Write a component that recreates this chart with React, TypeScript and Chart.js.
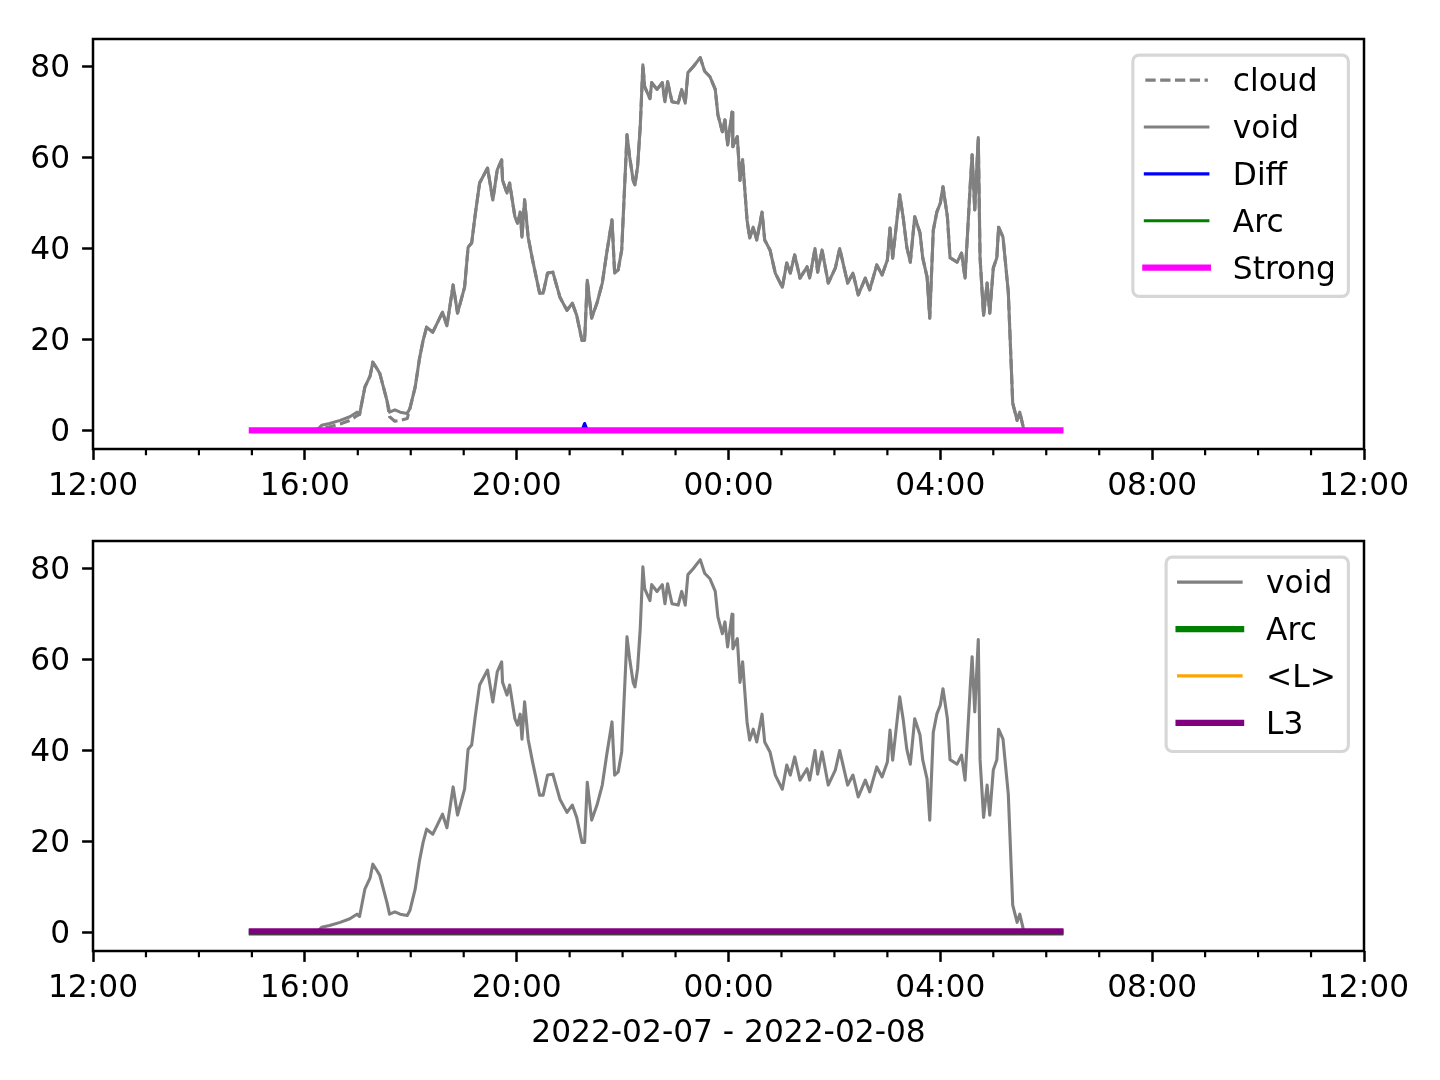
import React, { useEffect, useRef } from "react";
import { Chart, registerables } from "chart.js";

Chart.register(...registerables);

// ---------- data ----------
const TIMES = [
  "15:00","16:00","16:15","16:19","16:28","16:40","16:51","16:59","17:02","17:08",
  "17:14","17:17","17:22","17:25","17:33","17:36","17:42","17:48","17:56","17:59",
  "18:05","18:10","18:14","18:18","18:25","18:30","18:36","18:41","18:48","18:53",
  "19:01","19:05","19:09","19:13","19:18","19:24","19:27","19:33","19:38","19:43",
  "19:44","19:49","19:52","19:58","20:01","20:04","20:06","20:09","20:13","20:18",
  "20:26","20:30","20:35","20:41","20:49","20:57","21:03","21:08","21:14","21:17",
  "21:20","21:25","21:31","21:37","21:42","21:48","21:51","21:55","21:59","22:05",
  "22:08","22:12","22:14","22:17","22:20","22:23","22:25","22:31","22:33","22:39",
  "22:45","22:48","22:51","22:56","23:03","23:07","23:11","23:14","23:20","23:28",
  "23:33","23:39","23:45","23:48","23:53","23:56","23:59","00:04","00:05","00:10",
  "00:13","00:16","00:21","00:24","00:28","00:32","00:38","00:41","00:47","00:53",
  "01:01","01:06","01:10","01:15","01:21","01:29","01:32","01:38","01:41","01:46",
  "01:53","02:01","02:06","02:15","02:21","02:27","02:35","02:40","02:48","02:54",
  "03:00","03:03","03:06","03:14","03:18","03:22","03:26","03:31","03:37","03:40",
  "03:45","03:48","03:52","03:56","04:00","04:03","04:08","04:11","04:19","04:24",
  "04:28","04:34","04:36","04:39","04:43","04:45","04:49","04:53","04:56","05:00",
  "05:04","05:06","05:11","05:17","05:22","05:27","05:30","05:34","05:36",
];

const VOID_VALUES = [
  0, 0, 0.3, 1.1, 1.5, 2.2, 3, 4, 3.5, 9.5,
  12, 15, 13.5, 12.5, 6.6, 4, 4.5, 4, 3.7, 4.8,
  9.5, 15.9, 19.8, 22.7, 21.6, 23.6, 26, 23, 32, 25.8,
  31.5, 40.3, 41.2, 47.4, 54.4, 56.6, 57.7, 50.7, 57.3, 59.5,
  55, 52.2, 54.4, 47, 45.6, 48, 42.5, 50.7, 42.5, 37.5,
  30.2, 30.2, 34.6, 34.8, 29.3, 26.4, 28, 25.3, 19.8, 19.8,
  33, 24.7, 28, 32.4, 39, 46.3, 34.6, 35.3, 39.7, 65,
  60.2, 55, 54, 58, 66.8, 80.4, 75.6, 73, 76.5, 75,
  76.5, 72.3, 76.7, 72.3, 72, 75, 72, 78.7, 80, 82,
  79, 77.8, 75, 69.4, 65.7, 68.3, 62.8, 70, 62.4, 64.6,
  55, 59.5, 46.3, 42.3, 44.7, 41.9, 48, 41.9, 39.7, 34.6,
  31.5, 36.8, 34.6, 38.6, 33.5, 36, 33.5, 40, 34.8, 39.7,
  32.4, 35.7, 40, 32.4, 34.6, 29.8, 33.5, 30.9, 36.4, 34.2,
  37.5, 44.5, 37.9, 51.8, 46.7, 40.3, 37, 47, 43.4, 38,
  33.7, 24.7, 44, 48, 50, 53.6, 47, 38, 37, 39,
  33.5, 54.4, 60.6, 48.5, 64.4, 38, 25.3, 32.4, 25.8, 35.7,
  38, 44.7, 42.5, 30.4, 6, 2.2, 4, 0.7, 0,
];

const CLOUD_VALUES = [
  0, 0, 0.2, 0.5, 0.8, 1.4, 2.2, 3.2, 3.5, 9.5,
  12, 15, 13.5, 12.5, 6.6, 3, 2, 2.2, 2.6, 4.8,
  9.5, 15.9, 19.8, 22.7, 21.6, 23.6, 26, 23, 32, 25.8,
  31.5, 40.3, 41.2, 47.4, 54.4, 56.6, 57.7, 50.7, 57.3, 59.5,
  55, 52.2, 54.4, 47, 45.6, 48, 42.5, 50.7, 42.5, 37.5,
  30.2, 30.2, 34.6, 34.8, 29.3, 26.4, 28, 25.3, 19.8, 19.8,
  33, 24.7, 28, 32.4, 39, 46.3, 34.6, 35.3, 39.7, 65,
  60.2, 55, 54, 58, 66.8, 80.4, 75.6, 73, 76.5, 75,
  76.5, 72.3, 76.7, 72.3, 72, 75, 72, 78.7, 80, 82,
  79, 77.8, 75, 69.4, 65.7, 68.3, 62.8, 70, 62.4, 64.6,
  55, 59.5, 46.3, 42.3, 44.7, 41.9, 48, 41.9, 39.7, 34.6,
  31.5, 36.8, 34.6, 38.6, 33.5, 36, 33.5, 40, 34.8, 39.7,
  32.4, 35.7, 40, 32.4, 34.6, 29.8, 33.5, 30.9, 36.4, 34.2,
  37.5, 44.5, 37.9, 51.8, 46.7, 40.3, 37, 47, 43.4, 38,
  33.7, 24.7, 44, 48, 50, 53.6, 47, 38, 37, 39,
  33.5, 54.4, 60.6, 48.5, 64.4, 38, 25.3, 32.4, 25.8, 35.7,
  38, 44.7, 42.5, 30.4, 6, 2.2, 4, 0.7, 0,
];

const SPAN_TIMES = ["15:00", "06:16"];
const DIFF_TIMES = ["15:00", "21:14", "21:17", "21:20", "06:16"];
const DIFF_VALUES = [0, 0, 1.5, 0, 0];
const ARC_VALUES = [0, 0];
const STRONG_VALUES = [0, 0];
const MEAN_L_VALUES = [0, 0];
const L3_VALUES = [0.2, 0.2];

const X_MAJOR_HOURS = [0, 4, 8, 12, 16, 20, 24]; // hours after 12:00 on 2022-02-07
const X_MINOR_HOURS = [1, 2, 3, 5, 6, 7, 9, 10, 11, 13, 14, 15, 17, 18, 19, 21, 22, 23];
const Y_TICKS = [0, 20, 40, 60, 80];
const X_TITLE = "2022-02-07 - 2022-02-08";

// ---------- helpers ----------
const FONT = "DejaVu Sans";
const FS = 31.25;

function toHours(t: string): number {
  const [h, m] = t.split(":").map(Number);
  let mins = h * 60 + m - 720;
  if (mins < 0) mins += 1440;
  return mins / 60;
}

function pts(times: string[], values: number[]) {
  return times.map((t, i) => ({ x: toHours(t), y: values[i] }));
}

function line(label: string, data: any[], color: string, width: number, dash?: number[]) {
  return {
    label,
    data,
    borderColor: color,
    backgroundColor: color,
    borderWidth: width,
    borderDash: dash || [],
    borderCapStyle: dash ? "butt" : "square",
    borderJoinStyle: "round",
    pointRadius: 0,
    tension: 0,
    fill: false,
  };
}

const mplPlugin = {
  id: "mplFrame",
  afterDraw(chart: any) {
    const { ctx, chartArea: a } = chart;
    const xs = chart.scales.x;
    ctx.save();
    // minor ticks
    ctx.strokeStyle = "#000";
    ctx.lineWidth = 2.2;
    ctx.lineCap = "butt";
    X_MINOR_HOURS.forEach((h) => {
      const px = xs.getPixelForValue(h);
      ctx.beginPath();
      ctx.moveTo(px, a.bottom);
      ctx.lineTo(px, a.bottom + 6.25);
      ctx.stroke();
    });
    // frame
    ctx.lineWidth = 2.5;
    ctx.strokeRect(a.left, a.top, a.right - a.left, a.bottom - a.top);

    // legend
    const ds = chart.data.datasets;
    ctx.font = `${FS}px "${FONT}"`;
    const maxW = Math.max(...ds.map((d: any) => ctx.measureText(d.label).width));
    const pad = 0.4 * FS, handle = 2 * FS, htp = 0.8 * FS, ls = 0.5 * FS, axpad = 0.5 * FS;
    const w = pad * 2 + handle + htp + maxW;
    const h = pad * 2 + ds.length * FS + (ds.length - 1) * ls - 2.5;
    const x0 = a.right - axpad - w;
    const y0 = a.top + axpad + 0.5;
    ctx.beginPath();
    ctx.roundRect(x0, y0, w, h, 6.25);
    ctx.fillStyle = "rgba(255,255,255,0.8)";
    ctx.fill();
    ctx.strokeStyle = "rgba(204,204,204,0.8)";
    ctx.lineWidth = 3.1;
    ctx.setLineDash([]);
    ctx.stroke();
    ds.forEach((d: any, i: number) => {
      const cy = y0 + 25 + i * (FS + ls);
      ctx.beginPath();
      ctx.strokeStyle = d.borderColor;
      ctx.lineWidth = d.borderWidth;
      ctx.setLineDash(d.borderDash || []);
      ctx.lineCap = d.borderDash && d.borderDash.length ? "butt" : "square";
      ctx.moveTo(x0 + pad, cy);
      ctx.lineTo(x0 + pad + handle, cy);
      ctx.stroke();
      ctx.setLineDash([]);
      ctx.fillStyle = "#000";
      ctx.textAlign = "left";
      ctx.textBaseline = "middle";
      ctx.fillText(d.label, x0 + pad + handle + htp, cy + 3);
    });
    ctx.restore();
  },
};

function makeConfig(datasets: any[], showTitle: boolean, padTop: number, xHeight: number): any {
  const n = datasets.length;
  datasets.forEach((d, i) => (d.order = n - i));
  const tickFont = { family: FONT, size: FS };
  const grid = {
    display: true,
    drawOnChartArea: false,
    drawTicks: true,
    tickLength: 10.9,
    tickWidth: 2.5,
    tickColor: "#000",
    color: "#000",
  };
  return {
    type: "line",
    data: { datasets },
    options: {
      animation: false,
      responsive: false,
      devicePixelRatio: 1,
      parsing: true,
      layout: { padding: { top: padTop, left: 0, right: 76, bottom: 0 } },
      plugins: {
        legend: { display: false },
        tooltip: { enabled: false },
      },
      scales: {
        x: {
          type: "linear",
          min: 0,
          max: 24,
          afterBuildTicks: (s: any) => {
            s.ticks = X_MAJOR_HOURS.map((v) => ({ value: v }));
          },
          afterFit: (s: any) => {
            s.height = xHeight;
          },
          ticks: {
            font: tickFont,
            color: "#000",
            padding: 8,
            maxRotation: 0,
            autoSkip: false,
            callback: (v: number) => String((12 + v) % 24).padStart(2, "0") + ":00",
          },
          grid,
          border: { display: false },
          title: {
            display: showTitle,
            text: X_TITLE,
            color: "#000",
            font: tickFont,
            padding: { top: 0, bottom: 27 },
          },
        },
        y: {
          type: "linear",
          min: -4.1,
          max: 86.1,
          afterBuildTicks: (s: any) => {
            s.ticks = Y_TICKS.map((v) => ({ value: v }));
          },
          afterFit: (s: any) => {
            s.width = 93;
          },
          ticks: { font: tickFont, color: "#000", padding: 12, labelOffset: 2.5 },
          grid,
          border: { display: false },
        },
      },
    },
    plugins: [mplPlugin],
  };
}

export default function App() {
  const topRef = useRef<HTMLCanvasElement>(null);
  const botRef = useRef<HTMLCanvasElement>(null);

  useEffect(() => {
    const topSets = [
      line("cloud", pts(TIMES, CLOUD_VALUES), "#808080", 3.1, [10.3, 4.5]),
      line("void", pts(TIMES, VOID_VALUES), "#808080", 3.1),
      line("Diff", pts(DIFF_TIMES, DIFF_VALUES), "#0000ff", 3.1),
      line("Arc", pts(SPAN_TIMES, ARC_VALUES), "#008000", 3.1),
      line("Strong", pts(SPAN_TIMES, STRONG_VALUES), "#ff00ff", 6.25),
    ];
    const botSets = [
      line("void", pts(TIMES, VOID_VALUES), "#808080", 3.1),
      line("Arc", pts(SPAN_TIMES, ARC_VALUES), "#008000", 6.25),
      line("<L>", pts(SPAN_TIMES, MEAN_L_VALUES), "#ffa500", 3.1),
      line("L3", pts(SPAN_TIMES, L3_VALUES), "#800080", 6.25),
    ];
    const c1 = new Chart(topRef.current as HTMLCanvasElement, makeConfig(topSets, false, 39, 56));
    const c2 = new Chart(botRef.current as HTMLCanvasElement, makeConfig(botSets, true, 36, 129));
    return () => {
      c1.destroy();
      c2.destroy();
    };
  }, []);

  return (
    <div style={{ position: "absolute", left: 0, top: 0, width: 1440, height: 1080, background: "#fff" }}>
      <canvas
        ref={topRef}
        width={1440}
        height={505}
        style={{ position: "absolute", left: 0, top: 0, width: 1440, height: 505 }}
      />
      <canvas
        ref={botRef}
        width={1440}
        height={575}
        style={{ position: "absolute", left: 0, top: 505, width: 1440, height: 575 }}
      />
    </div>
  );
}
